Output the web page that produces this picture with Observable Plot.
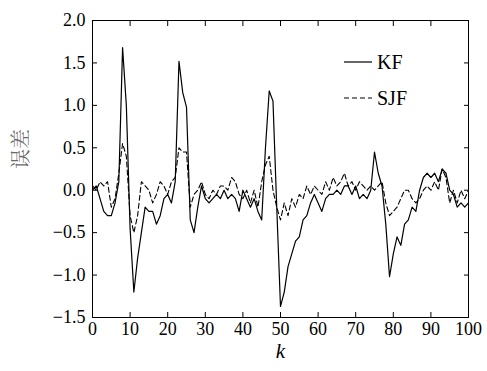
<!DOCTYPE html>
<html>
<head>
<meta charset="utf-8">
<script src="https://cdn.jsdelivr.net/npm/d3@7"></script>
<script src="https://cdn.jsdelivr.net/npm/@observablehq/plot@0.6"></script>
<style>
  body { margin: 0; background: #fff; }
  #wrap { position: relative; width: 487px; height: 371px; }
  #legend { position: absolute; left: 0; top: 0; pointer-events: none; }
  #wrap svg text { font-family: "Liberation Serif", "Times New Roman", serif; }
</style>
</head>
<body>
<div id="wrap"></div>
<script>
const kfValues = [0.0, 0.05, -0.1, -0.25, -0.3, -0.3, -0.15, 0.1, 1.68, 1.0,
  -0.45, -1.2, -0.8, -0.5, -0.2, -0.25, -0.25, -0.4, -0.3, -0.1,
  -0.05, -0.15, 0.1, 1.52, 1.15, 0.98, -0.35, -0.5, -0.2, 0.05,
  -0.1, -0.15, -0.1, -0.05, -0.1, 0.0, -0.1, -0.05, -0.1, -0.25,
  0.0, -0.1, -0.2, -0.1, -0.25, -0.35, 0.5, 1.17, 1.05, -0.2,
  -1.37, -1.2, -0.9, -0.75, -0.6, -0.55, -0.35, -0.3, -0.15, -0.05,
  -0.15, -0.25, -0.1, -0.05, -0.05, 0.0, -0.05, 0.05, 0.05, -0.05,
  0.05, -0.1, -0.05, -0.1, 0.0, 0.45, 0.2, 0.05, -0.4, -1.02,
  -0.75, -0.55, -0.65, -0.4, -0.35, -0.2, -0.25, 0.0, 0.15, 0.2,
  0.15, 0.2, 0.1, 0.25, 0.2, 0.0, -0.05, -0.2, -0.15, -0.2, -0.15];
const sjfValues = [0.05, 0.0, 0.1, 0.05, 0.1, -0.2, -0.1, 0.2, 0.55, 0.4,
  -0.3, -0.5, -0.3, 0.1, 0.05, 0.0, -0.15, -0.05, 0.1, 0.05,
  -0.05, 0.1, 0.15, 0.5, 0.45, 0.45, -0.2, -0.05, 0.0, 0.1,
  -0.05, -0.1, 0.0, -0.05, 0.05, 0.05, 0.0, 0.15, 0.1, -0.05,
  -0.1, 0.0, -0.15, 0.0, -0.2, 0.1, 0.3, 0.4, 0.0, -0.2,
  -0.35, -0.15, -0.3, -0.1, -0.2, -0.05, -0.1, 0.05, -0.05, 0.05,
  0.0, -0.05, 0.1, 0.0, 0.15, 0.05, 0.1, 0.2, 0.05, 0.1,
  0.0, 0.1, 0.05, 0.0, 0.05, 0.0, 0.05, 0.1, -0.15, -0.3,
  -0.25, -0.2, -0.1, 0.0, 0.0, -0.1, -0.15, -0.1, 0.0, 0.05,
  0.0, 0.1, 0.0, 0.25, 0.15, -0.15, 0.0, -0.15, 0.0, -0.1, 0.0];
const xTicks = [0, 10, 20, 30, 40, 50, 60, 70, 80, 90, 100];
const yTicks = [-1.5, -1.0, -0.5, 0.0, 0.5, 1.0, 1.5, 2.0];
const seriesNames = ["KF", "SJF"];

const kf = kfValues.map((v, i) => ({k: i, v}));
const sjf = sjfValues.map((v, i) => ({k: i, v}));

const plot = Plot.plot({
  width: 487,
  height: 371,
  marginLeft: 92,
  marginRight: 19,
  marginTop: 20,
  marginBottom: 54,
  style: {fontFamily: "Liberation Serif", fontSize: "18px", color: "#000", background: "#fff"},
  x: {domain: [0, 100]},
  y: {domain: [-1.5, 2.0]},
  marks: [
    Plot.frame({stroke: "#000", strokeWidth: 1}),
    Plot.axisX({ticks: xTicks, tickSize: -5, tickPadding: 10, tickFormat: d => String(d), label: null, fontSize: 18}),
    Plot.axisX({anchor: "top", ticks: xTicks, tickSize: -5, tickFormat: () => "", label: null}),
    Plot.axisY({ticks: yTicks, tickSize: -5, tickPadding: 12, tickFormat: d => d3.format(".1f")(d).replace("-", "\u2212"), label: null, fontSize: 18}),
    Plot.axisY({anchor: "right", ticks: yTicks, tickSize: -5, tickFormat: () => "", label: null}),
    Plot.line(sjf, {x: "k", y: "v", stroke: "#000", strokeWidth: 1.1, strokeDasharray: "5,3"}),
    Plot.line(kf, {x: "k", y: "v", stroke: "#000", strokeWidth: 1.2}),
    Plot.text(["k"], {frameAnchor: "bottom", dy: 34, text: d => d, fontStyle: "italic", fontSize: 21, lineAnchor: "middle"}),
    Plot.text(["误差"], {frameAnchor: "left", dx: -71, rotate: -90, text: d => d, fontSize: 20, fill: "#6a6a6a"})
  ]
});

const wrap = document.getElementById("wrap");
wrap.appendChild(plot);
plot.querySelectorAll("text").forEach(t => {
  if (t.textContent === "误差") t.style.fontFamily = "'Noto Serif CJK SC', 'Noto Sans CJK SC', serif";
  else t.style.fontFamily = "'Liberation Serif', serif";
});

// legend overlay
const ns = "http://www.w3.org/2000/svg";
const leg = document.createElementNS(ns, "svg");
leg.setAttribute("id", "legend");
leg.setAttribute("width", 487);
leg.setAttribute("height", 371);
const styles = [{dash: null, y: 62}, {dash: "5,3", y: 98}];
seriesNames.forEach((name, i) => {
  const l = document.createElementNS(ns, "line");
  l.setAttribute("x1", 344); l.setAttribute("x2", 372);
  l.setAttribute("y1", styles[i].y); l.setAttribute("y2", styles[i].y);
  l.setAttribute("stroke", "#000"); l.setAttribute("stroke-width", 1.2);
  if (styles[i].dash) l.setAttribute("stroke-dasharray", styles[i].dash);
  leg.appendChild(l);
  const t = document.createElementNS(ns, "text");
  t.setAttribute("x", 377); t.setAttribute("y", styles[i].y);
  t.setAttribute("dy", "0.35em");
  t.setAttribute("font-size", 20);
  t.style.fontFamily = "'Liberation Serif', serif";
  t.textContent = name;
  leg.appendChild(t);
});
wrap.appendChild(leg);
</script>
</body>
</html>
